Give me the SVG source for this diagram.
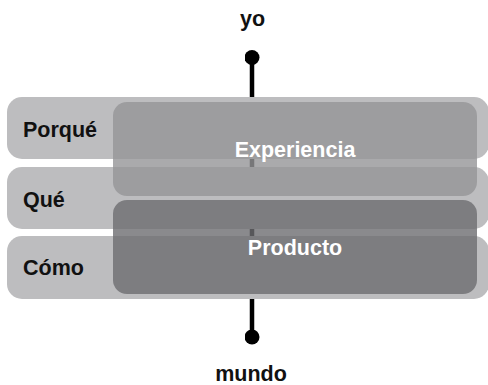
<svg xmlns="http://www.w3.org/2000/svg" width="488" height="385" viewBox="0 0 488 385">
<defs>
<style>
.lbl{font-family:"Liberation Sans",Arial,sans-serif;font-weight:bold;font-size:21.5px;fill:#111}
.box-lbl{font-family:"Liberation Sans",Arial,sans-serif;font-weight:bold;font-size:21.5px;fill:#ffffff;text-anchor:middle}
.band{fill:#bdbdbf}
.exp{fill:#959597;opacity:0.8}
.prod{fill:#6d6d71;opacity:0.8}
.conn{stroke:#000;stroke-width:4.5;fill:none}
</style>
<marker id="dot" viewBox="0 0 10 10" refX="5" refY="5" markerWidth="15" markerHeight="15" markerUnits="userSpaceOnUse"><circle cx="5" cy="5" r="5" fill="#000"/></marker>
</defs>
<rect width="488" height="385" fill="#ffffff"/>
<g id="connectors">
<line class="conn" x1="252" y1="57.5" x2="252" y2="337" marker-start="url(#dot)" marker-end="url(#dot)"/>
</g>
<g id="node-yo"><text class="lbl" x="252.5" y="26" text-anchor="middle">yo</text></g>
<g id="node-mundo"><text class="lbl" x="251" y="381" text-anchor="middle">mundo</text></g>
<g id="band-porque">
<rect class="band" x="7" y="97" width="482" height="62" rx="15"/>
<text class="lbl" x="23" y="137">Porqué</text>
</g>
<g id="band-que">
<rect class="band" x="7" y="167" width="482" height="62" rx="15"/>
<text class="lbl" x="23" y="207">Qué</text>
</g>
<g id="band-como">
<rect class="band" x="7" y="236" width="482" height="63" rx="15"/>
<text class="lbl" x="23" y="275">Cómo</text>
</g>
<g id="node-experiencia">
<rect class="exp" x="113" y="102" width="364" height="94" rx="14"/>
<text class="box-lbl" x="295" y="157">Experiencia</text>
</g>
<g id="node-producto">
<rect class="prod" x="113" y="200" width="364" height="94" rx="14"/>
<text class="box-lbl" x="295" y="255">Producto</text>
</g>
</svg>
